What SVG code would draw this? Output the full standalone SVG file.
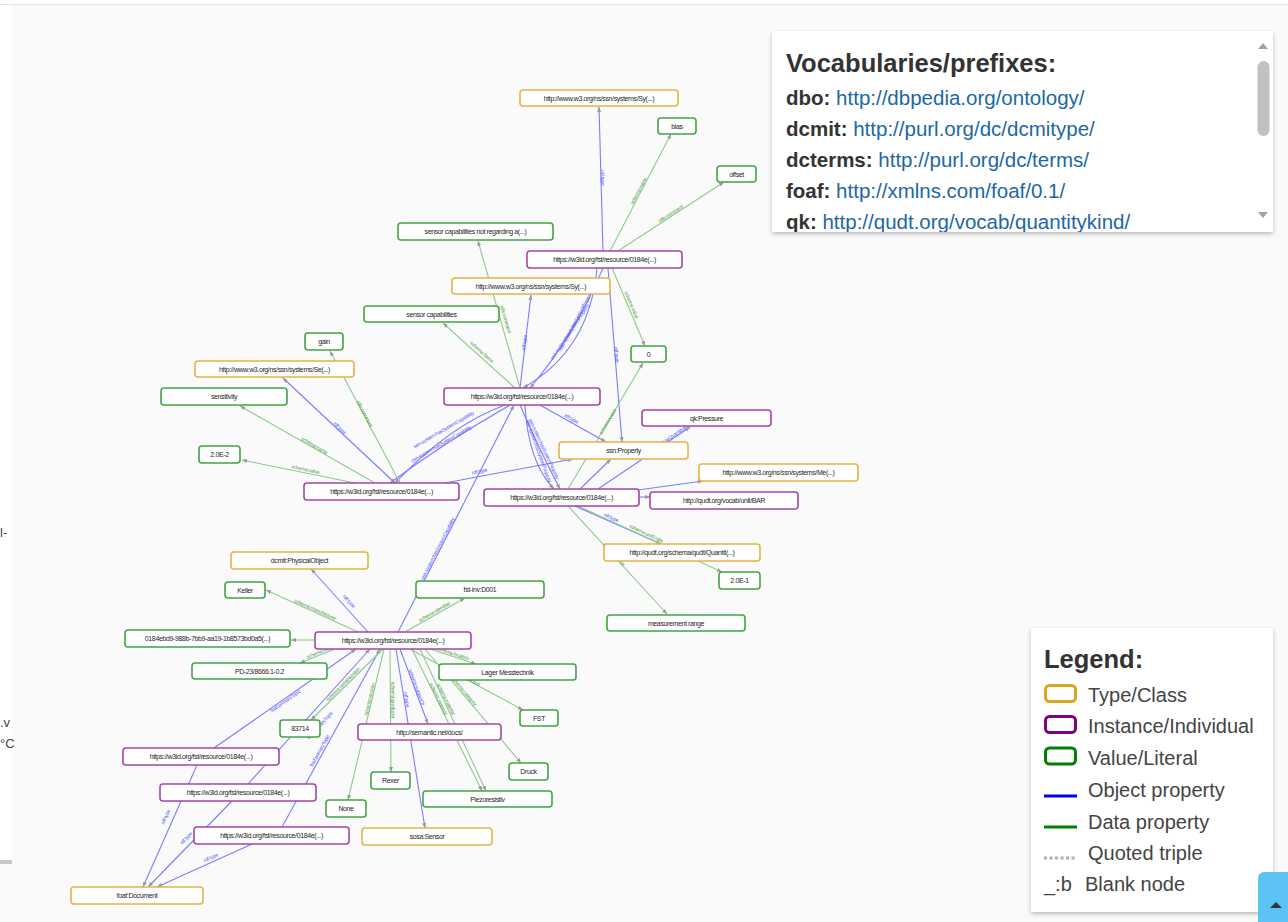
<svg xmlns="http://www.w3.org/2000/svg" width="1288" height="922" viewBox="0 0 1288 922">
<style>
  .node rect { fill: #ffffff; stroke-width: 1.6; }
  .cls rect { stroke: #e4b445; }
  .inst rect { stroke: #a446a4; }
  .lit rect { stroke: #44a444; }
  .node text { font-family: "Liberation Sans", Arial, sans-serif; font-size: 7px; letter-spacing: -0.38px; fill: #262626; text-anchor: middle; }
  .ob { stroke: #7c7cff; stroke-width: 1.1; fill: none; marker-end: url(#ah); }
  .dp { stroke: #8ccb8c; stroke-width: 1.1; fill: none; marker-end: url(#ah); }
  .lb { font-family: "Liberation Sans", Arial, sans-serif; font-size: 5px; letter-spacing: -0.15px; text-anchor: middle; }
  .lo { fill: #4f4fff; }
  .ld { fill: #4e963e; }
  .panel { fill: #ffffff; filter: url(#sh); }
  .h { font-family: "Liberation Sans", Arial, sans-serif; font-weight: bold; fill: #333; }
  .pf { font-family: "Liberation Sans", Arial, sans-serif; font-size: 20.5px; font-weight: bold; fill: #333; }
  .url { font-family: "Liberation Sans", Arial, sans-serif; font-size: 20.5px; font-weight: normal; fill: #2167a6; }
  .lg { font-family: "Liberation Sans", Arial, sans-serif; font-size: 20px; fill: #444; }
</style>
<defs>
  <marker id="ah" viewBox="0 0 10 10" refX="10" refY="5" markerWidth="5" markerHeight="5" markerUnits="userSpaceOnUse" orient="auto">
    <path d="M0,1 L10,5 L0,9 z" fill="#999"/>
  </marker>
  <filter id="sh" x="-5%" y="-5%" width="110%" height="115%">
    <feDropShadow dx="0" dy="2" stdDeviation="2" flood-color="#000" flood-opacity="0.25"/>
  </filter>
  <clipPath id="vclip"><rect x="772" y="31" width="500" height="201"/></clipPath>
</defs>

<!-- canvas -->
<rect x="0" y="0" width="1288" height="922" fill="#fafafa"/>
<rect x="0" y="0" width="1288" height="4" fill="#ffffff"/>
<line x1="0" y1="4.5" x2="1288" y2="4.5" stroke="#e4e4e4"/>
<!-- side panel edge -->
<rect x="0" y="5" width="12" height="857" fill="#ffffff"/>
<rect x="0" y="860" width="12" height="4" fill="#c8c8c8"/>
<g font-family="Liberation Sans, Arial, sans-serif" font-size="13" fill="#444">
  <text x="0" y="537">l-</text>
  <text x="0" y="727">.v</text>
  <text x="0" y="748">°C</text>
</g>

<!-- connectors -->
<g id="edges">
  <!-- object properties -->
  <line class="ob" x1="603" y1="251" x2="599" y2="107"/>
  <line class="ob" x1="608" y1="268" x2="622" y2="442"/>
  <path class="ob" d="M597,268 Q590,350 523,388"/>
  <path class="ob" d="M603,268 Q575,335 530,388"/>
  <line class="ob" x1="520" y1="388" x2="531" y2="295"/>
  <line class="ob" x1="540" y1="405" x2="606" y2="442"/>
  <path class="ob" d="M505,405 Q450,425 395,483"/>
  <path class="ob" d="M510,405 Q445,442 390,483"/>
  <path class="ob" d="M525,405 Q528,462 554,489"/>
  <path class="ob" d="M520,405 Q542,455 560,489"/>
  <line class="ob" x1="398" y1="632" x2="514" y2="405"/>
  <line class="ob" x1="395" y1="483" x2="283" y2="378"/>
  <line class="ob" x1="445" y1="483" x2="573" y2="459"/>
  <line class="ob" x1="580" y1="489" x2="611" y2="459"/>
  <line class="ob" x1="598" y1="489" x2="690" y2="427"/>
  <line class="ob" x1="638" y1="490" x2="703" y2="481"/>
  <line class="ob" x1="639" y1="497" x2="650" y2="497"/>
  <line class="ob" x1="575" y1="506" x2="661" y2="544"/>
  <line class="ob" x1="368" y1="632" x2="311" y2="569"/>
  <line class="ob" x1="214" y1="748" x2="356" y2="649"/>
  <line class="ob" x1="248" y1="784" x2="370" y2="649"/>
  <line class="ob" x1="282" y1="827" x2="380" y2="649"/>
  <line class="ob" x1="396" y1="649" x2="425" y2="828"/>
  <line class="ob" x1="400" y1="649" x2="428" y2="724"/>
  <line class="ob" x1="197" y1="765" x2="143" y2="887"/>
  <line class="ob" x1="232" y1="801" x2="148" y2="887"/>
  <line class="ob" x1="252" y1="844" x2="157" y2="887"/>
  <!-- data properties -->
  <line class="dp" x1="610" y1="251" x2="671" y2="134"/>
  <line class="dp" x1="618" y1="251" x2="724" y2="182"/>
  <line class="dp" x1="612" y1="268" x2="645" y2="346"/>
  <line class="dp" x1="520" y1="388" x2="478" y2="241"/>
  <line class="dp" x1="515" y1="388" x2="443" y2="323"/>
  <line class="dp" x1="400" y1="483" x2="330" y2="351"/>
  <line class="dp" x1="375" y1="483" x2="240" y2="406"/>
  <line class="dp" x1="355" y1="483" x2="242" y2="460"/>
  <line class="dp" x1="568" y1="489" x2="643" y2="363"/>
  <line class="dp" x1="578" y1="506" x2="722" y2="572"/>
  <line class="dp" x1="568" y1="506" x2="667" y2="614"/>
  <line class="dp" x1="358" y1="632" x2="266" y2="590"/>
  <line class="dp" x1="405" y1="632" x2="465" y2="598"/>
  <line class="dp" x1="315" y1="640" x2="291" y2="640"/>
  <line class="dp" x1="335" y1="649" x2="300" y2="663"/>
  <line class="dp" x1="430" y1="649" x2="476" y2="664"/>
  <line class="dp" x1="410" y1="649" x2="523" y2="710"/>
  <line class="dp" x1="383" y1="649" x2="311" y2="720"/>
  <line class="dp" x1="384" y1="649" x2="348" y2="800"/>
  <line class="dp" x1="390" y1="649" x2="391" y2="772"/>
  <line class="dp" x1="412" y1="649" x2="482" y2="791"/>
  <line class="dp" x1="420" y1="649" x2="486" y2="791"/>
  <line class="dp" x1="425" y1="649" x2="521" y2="763"/>

  <!-- labels -->
  <text class="lb lo" transform="translate(600,178) rotate(88)" dy="-1">rdf:type</text>
  <text class="lb lo" transform="translate(614,355) rotate(85)" dy="-1">rdf:type</text>
  <text class="lb lo" transform="translate(578,322) rotate(-62)" dy="-1">ssn-system:hasSystemProperty</text>
  <text class="lb lo" transform="translate(567,330) rotate(-56)" dy="5">ssn-system:hasSystemProperty</text>
  <text class="lb lo" transform="translate(527,343) rotate(-83)" dy="-1">rdf:type</text>
  <text class="lb lo" transform="translate(570,421) rotate(29)" dy="-1">rdf:type</text>
  <text class="lb lo" transform="translate(445,432) rotate(-30)" dy="-1">ssn-system:hasSystemCapability</text>
  <text class="lb lo" transform="translate(440,442) rotate(-30)" dy="4">ssn-system:hasSystemCapability</text>
  <text class="lb lo" transform="translate(536,452) rotate(70)" dy="-1">ssn-system:hasSystemProperty</text>
  <text class="lb lo" transform="translate(546,448) rotate(65)" dy="4">ssn-system:hasSystemProperty</text>
  <text class="lb lo" transform="translate(440,550) rotate(-63)" dy="-1">ssn-system:hasSystemCapability</text>
  <text class="lb lo" transform="translate(338,430) rotate(43)" dy="-1">rdf:type</text>
  <text class="lb lo" transform="translate(480,474) rotate(-11)" dy="-1">rdf:type</text>
  <text class="lb lo" transform="translate(674,438) rotate(-34)" dy="-1">qudt:hasQuantityKind</text>
  <text class="lb lo" transform="translate(610,520) rotate(24)" dy="-1">rdf:type</text>
  <text class="lb lo" transform="translate(347,603) rotate(48)" dy="-1">rdf:type</text>
  <text class="lb lo" transform="translate(287,703) rotate(-35)" dy="-1">foaf:primaryTopic</text>
  <text class="lb lo" transform="translate(322,727) rotate(-48)" dy="-1">foaf:primaryTopic</text>
  <text class="lb lo" transform="translate(322,752) rotate(-61)" dy="-1">foaf:primaryTopic</text>
  <text class="lb lo" transform="translate(404,700) rotate(81)" dy="-1">rdf:type</text>
  <text class="lb lo" transform="translate(414,688) rotate(70)" dy="-1">schema:subjectOf</text>
  <text class="lb lo" transform="translate(168,818) rotate(-66)" dy="-1">rdf:type</text>
  <text class="lb lo" transform="translate(188,840) rotate(-46)" dy="-1">rdf:type</text>
  <text class="lb lo" transform="translate(212,860) rotate(-24)" dy="-1">rdf:type</text>

  <text class="lb ld" transform="translate(641,192) rotate(-62)" dy="-1">schema:name</text>
  <text class="lb ld" transform="translate(672,216) rotate(-33)" dy="-1">rdfs:comment</text>
  <text class="lb ld" transform="translate(629,306) rotate(67)" dy="-1">schema:value</text>
  <text class="lb ld" transform="translate(503,320) rotate(74)" dy="-1">rdfs:comment</text>
  <text class="lb ld" transform="translate(480,354) rotate(42)" dy="-1">schema:name</text>
  <text class="lb ld" transform="translate(362,415) rotate(62)" dy="-1">rdfs:comment</text>
  <text class="lb ld" transform="translate(313,448) rotate(30)" dy="-1">schema:name</text>
  <text class="lb ld" transform="translate(305,472) rotate(12)" dy="-1">schema:value</text>
  <text class="lb ld" transform="translate(610,423) rotate(-59)" dy="-1">schema:value</text>
  <text class="lb ld" transform="translate(645,536) rotate(25)" dy="-1">schema:unitCode</text>
  <text class="lb ld" transform="translate(612,556) rotate(47)" dy="-1">schema:name</text>
  <text class="lb ld" transform="translate(314,612) rotate(24)" dy="-1">schema:manufacturer</text>
  <text class="lb ld" transform="translate(436,614) rotate(-30)" dy="-1">schema:identifier</text>
  <text class="lb ld" transform="translate(322,654) rotate(-22)" dy="-1">schema:model</text>
  <text class="lb ld" transform="translate(452,656) rotate(18)" dy="-1">schema:location</text>
  <text class="lb ld" transform="translate(465,680) rotate(28)" dy="-1">schema:brand</text>
  <text class="lb ld" transform="translate(345,686) rotate(-45)" dy="-1">schema:serialNumber</text>
  <text class="lb ld" transform="translate(372,700) rotate(-77)" dy="-1">schema:version</text>
  <text class="lb ld" transform="translate(390,700) rotate(90)" dy="-1">schema:producer</text>
  <text class="lb ld" transform="translate(436,700) rotate(64)" dy="-1">schema:material</text>
  <text class="lb ld" transform="translate(448,698) rotate(63)" dy="4">schema:material</text>
  <text class="lb ld" transform="translate(462,693) rotate(50)" dy="-1">schema:category</text>
</g>

<!-- nodes -->
<g id="n1" class="node cls"><rect x="520" y="90" width="158" height="16" rx="3"/><text x="599" y="100.5">http://www.w3.org/ns/ssn/systems/Sy(...)</text></g>
<g id="n2" class="node lit"><rect x="658" y="118" width="38" height="16" rx="3"/><text x="677" y="128.5">bias</text></g>
<g id="n3" class="node lit"><rect x="717" y="166" width="39" height="16" rx="3"/><text x="736.5" y="176.5">offset</text></g>
<g id="n4" class="node lit"><rect x="398" y="223" width="155" height="17" rx="3"/><text x="475.5" y="234">sensor capabilities not regarding a(...)</text></g>
<g id="n5" class="node inst"><rect x="527" y="251" width="155" height="17" rx="3"/><text x="604.5" y="262">https://w3id.org/fst/resource/0184e(...)</text></g>
<g id="n6" class="node cls"><rect x="452" y="278" width="158" height="16" rx="3"/><text x="531" y="288.5">http://www.w3.org/ns/ssn/systems/Sy(...)</text></g>
<g id="n7" class="node lit"><rect x="364" y="306" width="135" height="16" rx="3"/><text x="431.5" y="316.5">sensor capabilities</text></g>
<g id="n8" class="node lit"><rect x="631" y="346" width="35" height="16" rx="3"/><text x="648.5" y="356.5">0</text></g>
<g id="n9" class="node lit"><rect x="305" y="333" width="38" height="17" rx="3"/><text x="324" y="344">gain</text></g>
<g id="n10" class="node cls"><rect x="195" y="361" width="159" height="16" rx="3"/><text x="274.5" y="371.5">http://www.w3.org/ns/ssn/systems/Se(...)</text></g>
<g id="n11" class="node lit"><rect x="161" y="388" width="126" height="17" rx="3"/><text x="224" y="399">sensitivity</text></g>
<g id="n12" class="node inst"><rect x="444" y="388" width="156" height="17" rx="3"/><text x="522" y="399">https://w3id.org/fst/resource/0184e(...)</text></g>
<g id="n13" class="node lit"><rect x="199" y="446" width="41" height="17" rx="3"/><text x="219.5" y="457">2.0E-2</text></g>
<g id="n14" class="node inst"><rect x="304" y="483" width="155" height="17" rx="3"/><text x="381.5" y="494">https://w3id.org/fst/resource/0184e(...)</text></g>
<g id="n15" class="node inst"><rect x="642" y="410" width="129" height="16" rx="3"/><text x="706.5" y="420.5">qk:Pressure</text></g>
<g id="n16" class="node cls"><rect x="559" y="442" width="129" height="17" rx="3"/><text x="623.5" y="453">ssn:Property</text></g>
<g id="n17" class="node cls"><rect x="699" y="464" width="159" height="17" rx="3"/><text x="778.5" y="475">http://www.w3.org/ns/ssn/systems/Me(...)</text></g>
<g id="n18" class="node inst"><rect x="484" y="489" width="155" height="17" rx="3"/><text x="561.5" y="500">https://w3id.org/fst/resource/0184e(...)</text></g>
<g id="n19" class="node inst"><rect x="650" y="492" width="148" height="17" rx="3"/><text x="724" y="503">http://qudt.org/vocab/unit/BAR</text></g>
<g id="n20" class="node cls"><rect x="604" y="544" width="156" height="17" rx="3"/><text x="682" y="555">http://qudt.org/schema/qudt/Quantit(...)</text></g>
<g id="n21" class="node lit"><rect x="719" y="572" width="41" height="17" rx="3"/><text x="739.5" y="583">2.0E-1</text></g>
<g id="n22" class="node lit"><rect x="607" y="615" width="138" height="16" rx="3"/><text x="676" y="625.5">measurement range</text></g>
<g id="n23" class="node cls"><rect x="231" y="552" width="137" height="17" rx="3"/><text x="299.5" y="563">dcmit:PhysicalObject</text></g>
<g id="n24" class="node lit"><rect x="225" y="582" width="40" height="16" rx="3"/><text x="245" y="592.5">Keller</text></g>
<g id="n25" class="node lit"><rect x="416" y="581" width="128" height="17" rx="3"/><text x="480" y="592">fst-inv:D001</text></g>
<g id="n26" class="node lit"><rect x="125" y="630" width="165" height="17" rx="3"/><text x="207.5" y="641">0184ebd9-988b-7bb9-aa19-1b8573bd0a5(...)</text></g>
<g id="n27" class="node inst"><rect x="315" y="632" width="156" height="17" rx="3"/><text x="393" y="643">https://w3id.org/fst/resource/0184e(...)</text></g>
<g id="n28" class="node lit"><rect x="192" y="663" width="135" height="16" rx="3"/><text x="259.5" y="673.5">PD-23/8666.1-0.2</text></g>
<g id="n29" class="node lit"><rect x="439" y="664" width="137" height="16" rx="3"/><text x="507.5" y="674.5">Lager Messtechnik</text></g>
<g id="n30" class="node lit"><rect x="520" y="710" width="38" height="16" rx="3"/><text x="539" y="720.5">FST</text></g>
<g id="n31" class="node lit"><rect x="280" y="720" width="40" height="17" rx="3"/><text x="300" y="731">83714</text></g>
<g id="n32" class="node inst"><rect x="358" y="724" width="143" height="16" rx="3"/><text x="429.5" y="734.5">http://semantic.net/docs/</text></g>
<g id="n33" class="node inst"><rect x="123" y="748" width="156" height="17" rx="3"/><text x="201" y="759">https://w3id.org/fst/resource/0184e(...)</text></g>
<g id="n34" class="node lit"><rect x="509" y="763" width="39" height="17" rx="3"/><text x="528.5" y="774">Druck</text></g>
<g id="n35" class="node lit"><rect x="371" y="772" width="39" height="17" rx="3"/><text x="390.5" y="783">Rexer</text></g>
<g id="n36" class="node inst"><rect x="160" y="784" width="156" height="17" rx="3"/><text x="238" y="795">https://w3id.org/fst/resource/0184e(...)</text></g>
<g id="n37" class="node lit"><rect x="423" y="791" width="129" height="16" rx="3"/><text x="487.5" y="801.5">Piezoresistiv</text></g>
<g id="n38" class="node lit"><rect x="326" y="800" width="40" height="17" rx="3"/><text x="346" y="811">None</text></g>
<g id="n39" class="node inst"><rect x="194" y="827" width="155" height="17" rx="3"/><text x="271.5" y="838">https://w3id.org/fst/resource/0184e(...)</text></g>
<g id="n40" class="node cls"><rect x="362" y="828" width="130" height="17" rx="3"/><text x="427" y="839">sosa:Sensor</text></g>
<g id="n41" class="node cls"><rect x="71" y="887" width="132" height="17" rx="3"/><text x="137" y="898">foaf:Document</text></g>

<!-- vocabulary panel -->
<g id="vocab">
  <rect class="panel" x="772" y="31" width="501" height="201"/>
  <g clip-path="url(#vclip)">
    <text class="h" x="786" y="72" font-size="25.5">Vocabularies/prefixes:</text>
    <text class="pf" x="786" y="105">dbo: <tspan class="url">http://dbpedia.org/ontology/</tspan></text>
    <text class="pf" x="786" y="136">dcmit: <tspan class="url">http://purl.org/dc/dcmitype/</tspan></text>
    <text class="pf" x="786" y="167">dcterms: <tspan class="url">http://purl.org/dc/terms/</tspan></text>
    <text class="pf" x="786" y="198">foaf: <tspan class="url">http://xmlns.com/foaf/0.1/</tspan></text>
    <text class="pf" x="786" y="229">qk: <tspan class="url">http://qudt.org/vocab/quantitykind/</tspan></text>
  </g>
  <path d="M1258,49 L1268,49 L1263,43 z" fill="#a3a3a3"/>
  <rect x="1257.5" y="61" width="12" height="75" rx="6" fill="#c1c1c1"/>
  <path d="M1258,212 L1268,212 L1263,218 z" fill="#a3a3a3"/>
</g>

<!-- legend panel -->
<g id="legend">
  <rect class="panel" x="1031" y="628" width="242" height="284"/>
  <text class="h" x="1044" y="668" font-size="25.5">Legend:</text>
  <rect x="1045.5" y="685.5" width="30" height="16" rx="4" fill="#fff" stroke="#daa520" stroke-width="3"/>
  <text class="lg" x="1088" y="702">Type/Class</text>
  <rect x="1045.5" y="716.5" width="30" height="16" rx="4" fill="#fff" stroke="#800080" stroke-width="3"/>
  <text class="lg" x="1088" y="733">Instance/Individual</text>
  <rect x="1045.5" y="748" width="30" height="16" rx="4" fill="#fff" stroke="#008000" stroke-width="3"/>
  <text class="lg" x="1088" y="765">Value/Literal</text>
  <line x1="1044" y1="796" x2="1077" y2="796" stroke="#0000ff" stroke-width="3"/>
  <text class="lg" x="1088" y="797">Object property</text>
  <line x1="1044" y1="827" x2="1077" y2="827" stroke="#008000" stroke-width="3"/>
  <text class="lg" x="1088" y="829">Data property</text>
  <line x1="1044" y1="858" x2="1077" y2="858" stroke="#b0b0b0" stroke-width="3" stroke-dasharray="3,2.5"/>
  <text class="lg" x="1088" y="860">Quoted triple</text>
  <text class="lg" x="1044" y="891">_:b</text>
  <text class="lg" x="1085" y="891">Blank node</text>
</g>

<!-- scroll-to-top button -->
<g id="totop">
  <rect x="1258" y="872" width="40" height="60" rx="6" fill="#5bc4f4"/>
  <path d="M1270,908 L1282,908 L1276,902 z" fill="#333"/>
</g>
</svg>
